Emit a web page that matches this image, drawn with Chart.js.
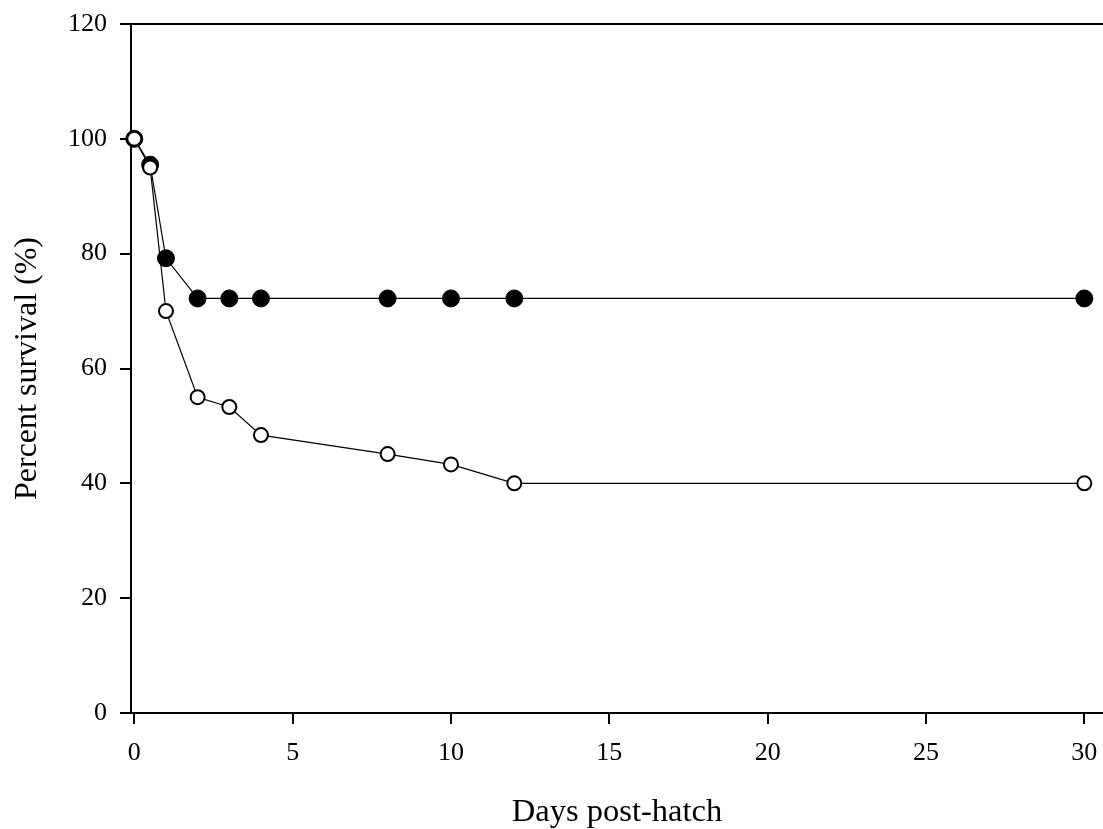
<!DOCTYPE html>
<html>
<head>
<meta charset="utf-8">
<script src="https://cdn.jsdelivr.net/npm/chart.js@4"></script>
<style>
    html, body { margin: 0; padding: 0; background: #fff; }
    #wrap { width: 1103px; height: 829px; }
</style>
</head>
<body>
<div id="wrap"><canvas id="survivalChart"></canvas></div>
<script>
const days = [0, 0.5, 1, 2, 3, 4, 8, 10, 12, 30];
const filledSurvival = [100, 95.5, 79.2, 72.2, 72.2, 72.2, 72.2, 72.2, 72.2, 72.2];
const openSurvival = [100, 95, 70, 55, 53.3, 48.4, 45.1, 43.3, 40, 40];
const xTicks = [0, 5, 10, 15, 20, 25, 30];
const yTicks = [0, 20, 40, 60, 80, 100, 120];

document.addEventListener("DOMContentLoaded", function () {
    const ctx = document.getElementById('survivalChart').getContext('2d');
    const serif = 'Liberation Serif, Times New Roman, serif';

    const toPoints = (ys) => days.map((d, i) => ({ x: d, y: ys[i] }));

    // top frame line, starts at the end of the y ticks
    const topLine = {
        id: 'topLine',
        afterDraw(chart) {
            const a = chart.chartArea;
            const c = chart.ctx;
            c.save();
            c.strokeStyle = '#000';
            c.lineWidth = 2;
            c.beginPath();
            c.moveTo(a.left - 11, a.top);
            c.lineTo(a.right, a.top);
            c.stroke();
            c.restore();
        }
    };

    new Chart(ctx, {
        type: 'line',
        data: {
            datasets: [
                {
                    label: 'open',
                    data: toPoints(openSurvival),
                    borderColor: '#000',
                    borderWidth: 1.2,
                    pointRadius: 7,
                    pointBorderWidth: 2,
                    pointBackgroundColor: '#fff',
                    pointBorderColor: '#000',
                    tension: 0,
                    clip: false,
                    order: 0
                },
                {
                    label: 'filled',
                    data: toPoints(filledSurvival),
                    borderColor: '#000',
                    borderWidth: 1.2,
                    pointRadius: 8.5,
                    pointBorderWidth: 1,
                    pointBackgroundColor: '#000',
                    pointBorderColor: '#000',
                    tension: 0,
                    clip: false,
                    order: 1
                }
            ]
        },
        options: {
            responsive: true,
            maintainAspectRatio: false,
            animation: false,
            layout: { autoPadding: false, padding: { top: 24, right: 0, left: 0, bottom: 0 } },
            plugins: {
                legend: { display: false },
                tooltip: { enabled: false }
            },
            scales: {
                x: {
                    type: 'linear',
                    min: -0.104,
                    max: 30.59,
                    afterFit: (s) => { s.height = 116; s.paddingLeft = 0; s.paddingRight = 0; },
                    afterBuildTicks: (s) => { s.ticks = xTicks.map(v => ({ value: v })); },
                    grid: { drawOnChartArea: false, tickLength: 11, color: '#000', lineWidth: 2 },
                    border: { color: '#000', width: 2 },
                    ticks: { color: '#000', padding: 14, font: { family: serif, size: 26 } },
                    title: {
                        display: true,
                        text: 'Days post-hatch',
                        color: '#000',
                        padding: { top: 0, bottom: 0 },
                        font: { family: serif, size: 32.5, lineHeight: 1.0 }
                    }
                },
                y: {
                    min: 0,
                    max: 120,
                    afterFit: (s) => { s.width = 131; s.paddingTop = 0; s.paddingBottom = 0; },
                    afterBuildTicks: (s) => { s.ticks = yTicks.map(v => ({ value: v })); },
                    grid: { drawOnChartArea: false, tickLength: 11, color: '#000', lineWidth: 2 },
                    border: { color: '#000', width: 2 },
                    ticks: { color: '#000', padding: 13, font: { family: serif, size: 26 } },
                    title: {
                        display: true,
                        text: 'Percent survival (%)',
                        color: '#000',
                        padding: { top: 12, bottom: 0 },
                        font: { family: serif, size: 32, lineHeight: 1 }
                    }
                }
            }
        },
        plugins: [topLine]
    });
});
</script>
</body>
</html>
